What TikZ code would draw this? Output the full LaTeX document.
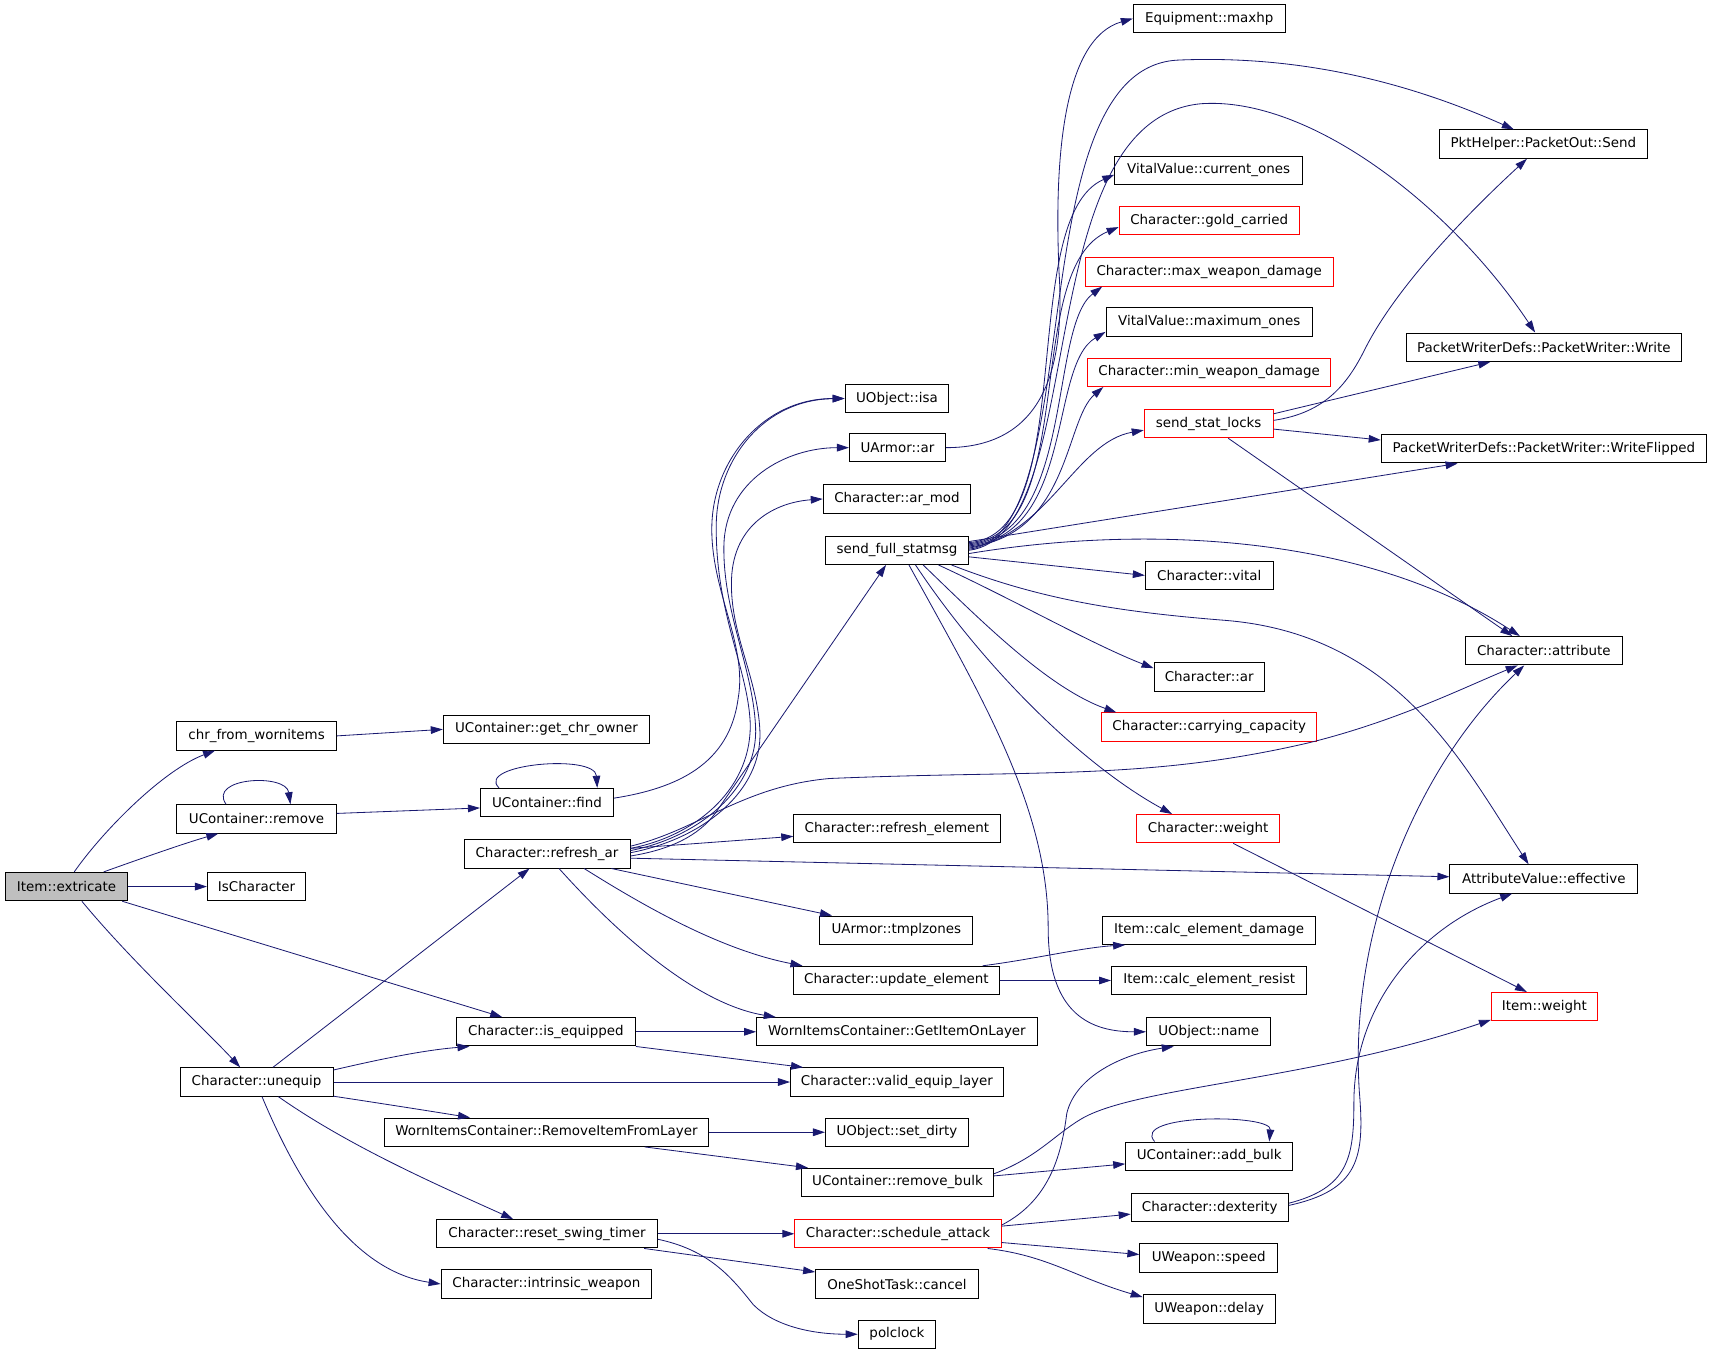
\documentclass[tikz,border=0pt]{standalone}
\usepackage{fontspec}
\setmainfont{DejaVu Sans}
\usetikzlibrary{arrows.meta}
\definecolor{edgeblue}{HTML}{191970}
\definecolor{rootfill}{HTML}{BFBFBF}
\begin{document}
\begin{tikzpicture}[x=1pt,y=-1pt,
  fn/.style={draw=black, line width=0.9pt, rectangle, minimum height=26pt, inner sep=0pt, font=\fontsize{12.3}{14}\selectfont},
  redfn/.style={fn, draw=red},
  rootfn/.style={fn, fill=rootfill},
  call/.style={draw=edgeblue, line width=0.75pt, -{Triangle[length=11pt,width=7pt]}}]
\useasboundingbox (0,0) rectangle (1568,1241);
% column 1
\node[rootfn, minimum width=112pt] (ext) at (61,812) {Item::extricate};
% column 2
\node[fn, minimum width=146pt] (chr) at (235,674) {chr\_from\_wornitems};
\node[fn, minimum width=146pt] (rem) at (235,750) {UContainer::remove};
\node[fn, minimum width=90pt] (isch) at (235,812) {IsCharacter};
\node[fn, minimum width=140pt] (uneq) at (235,991) {Character::unequip};
% column 3
\node[fn, minimum width=189pt] (gco) at (500.5,668) {UContainer::get\_chr\_owner};
\node[fn, minimum width=122pt] (find) at (501,735) {UContainer::find};
\node[fn, minimum width=152pt] (rar) at (501,782) {Character::refresh\_ar};
\node[fn, minimum width=164pt] (iseq) at (500,945) {Character::is\_equipped};
\node[fn, minimum width=297pt] (rifl) at (500.5,1037) {WornItemsContainer::RemoveItemFromLayer};
\node[fn, minimum width=202pt] (rst) at (501,1130) {Character::reset\_swing\_timer};
\node[fn, minimum width=193pt] (iw) at (500.5,1176) {Character::intrinsic\_weapon};
% column 4
\node[fn, minimum width=95pt] (isa) at (821.5,365) {UObject::isa};
\node[fn, minimum width=88pt] (uar) at (822,410) {UArmor::ar};
\node[fn, minimum width=135pt] (armod) at (821.5,457) {Character::ar\_mod};
\node[fn, minimum width=131pt] (fsm) at (821.5,504) {send\_full\_statmsg};
\node[fn, minimum width=189pt] (rel) at (821.5,759) {Character::refresh\_element};
\node[fn, minimum width=140pt] (tz) at (821,852) {UArmor::tmplzones};
\node[fn, minimum width=188pt] (upe) at (821,898) {Character::update\_element};
\node[fn, minimum width=257pt] (gil) at (821.5,945) {WornItemsContainer::GetItemOnLayer};
\node[fn, minimum width=195pt] (vel) at (821.5,991) {Character::valid\_equip\_layer};
\node[fn, minimum width=131pt] (sd) at (821.5,1037) {UObject::set\_dirty};
\node[fn, minimum width=176pt] (rb) at (822,1083) {UContainer::remove\_bulk};
\node[redfn, minimum width=189pt] (sa) at (822.5,1130) {Character::schedule\_attack};
\node[fn, minimum width=149pt] (osc) at (821.5,1176) {OneShotTask::cancel};
\node[fn, minimum width=71pt] (pc) at (821.5,1222) {polclock};
% column 5
\node[fn, minimum width=139pt] (maxhp) at (1107.5,17) {Equipment::maxhp};
\node[fn, minimum width=172pt] (cur) at (1107,156) {VitalValue::current\_ones};
\node[redfn, minimum width=165pt] (gold) at (1107.5,202) {Character::gold\_carried};
\node[redfn, minimum width=227pt] (maxwd) at (1107.5,249) {Character::max\_weapon\_damage};
\node[fn, minimum width=189pt] (maxo) at (1107.5,295) {VitalValue::maximum\_ones};
\node[redfn, minimum width=223pt] (minwd) at (1107.5,341) {Character::min\_weapon\_damage};
\node[redfn, minimum width=118pt] (ssl) at (1107,388) {send\_stat\_locks};
\node[fn, minimum width=117pt] (vital) at (1107.5,527) {Character::vital};
\node[fn, minimum width=101pt] (char_ar) at (1107.5,620) {Character::ar};
\node[redfn, minimum width=197pt] (cc) at (1107.5,666) {Character::carrying\_capacity};
\node[redfn, minimum width=131pt] (cw) at (1106.5,759) {Character::weight};
\node[fn, minimum width=195pt] (ced) at (1107.5,852) {Item::calc\_element\_damage};
\node[fn, minimum width=179pt] (cer) at (1107.5,898) {Item::calc\_element\_resist};
\node[fn, minimum width=114pt] (name) at (1107,945) {UObject::name};
\node[fn, minimum width=153pt] (ab) at (1107.5,1059) {UContainer::add\_bulk};
\node[fn, minimum width=144pt] (dex) at (1108,1106) {Character::dexterity};
\node[fn, minimum width=126pt] (spd) at (1107,1152) {UWeapon::speed};
\node[fn, minimum width=121pt] (dly) at (1107.5,1199) {UWeapon::delay};
% column 6
\node[fn, minimum width=191pt] (send) at (1413.5,132) {PktHelper::PacketOut::Send};
\node[fn, minimum width=252pt] (write) at (1414,318) {PacketWriterDefs::PacketWriter::Write};
\node[fn, minimum width=298pt] (wf) at (1414,411) {PacketWriterDefs::PacketWriter::WriteFlipped};
\node[fn, minimum width=144pt] (attr) at (1414,596) {Character::attribute};
\node[fn, minimum width=172pt] (eff) at (1414,805) {AttributeValue::effective};
\node[redfn, minimum width=97pt] (iwt) at (1414.5,922) {Item::weight};

% ---- edges from Item::extricate
\draw[call] ([shift={(7,0)}]ext.north) .. controls (95,760) and (150,705) .. ([shift={(-38,0)}]chr.south);
\draw[call] ([shift={(34,0)}]ext.north) .. controls (130,786) and (170,772) .. ([shift={(-35,0)}]rem.south);
\draw[call] (ext.east) -- (isch.west);
\draw[call] ([shift={(51,0)}]ext.south) -- ([shift={(-40,0)}]iseq.north);
\draw[call] ([shift={(14,0)}]ext.south) .. controls (120,880) and (185,940) .. ([shift={(-15,0)}]uneq.north);
% ---- column 2
\draw[call] (chr.east) -- (gco.west);
\draw[call] ([shift={(-28,0)}]rem.north) .. controls (190,712) and (262,708) .. ([shift={(31,0)}]rem.north);
\draw[call] ([shift={(0,-5)}]rem.east) -- ([shift={(0,5)}]find.west);
\draw[call] ([shift={(-44,0)}]find.north) .. controls (435,700) and (545,690) .. ([shift={(46,0)}]find.north);
\draw[call] ([shift={(0,-4)}]find.east) .. controls (620,722) and (668,700) .. (676,640) .. controls (685,590) and (650,540) .. (652,480) .. controls (654,420) and (700,365) .. (isa.west);
% ---- Character::refresh_ar
\draw[call] ([shift={(0,-5)}]rar.east) .. controls (640,765) and (690,720) .. (687,660) .. controls (684,610) and (655,560) .. (656,480) .. controls (657,420) and (700,366) .. (isa.west);
\draw[call] ([shift={(0,-3)}]rar.east) .. controls (640,767) and (695,722) .. (692,665) .. controls (689,610) and (662,560) .. (663,500) .. controls (664,440) and (720,410) .. (uar.west);
\draw[call] ([shift={(0,-1)}]rar.east) .. controls (645,768) and (698,724) .. (696,670) .. controls (694,620) and (668,580) .. (670,530) .. controls (672,480) and (710,460) .. (armod.west);
\draw[call] ([shift={(0,2)}]rar.east) .. controls (615,778) and (640,765) .. (655,745) -- ([shift={(-10,0)}]fsm.south);
\draw[call] ([shift={(0,-5)}]rar.east) -- ([shift={(0,7)}]rel.west);
\draw[call] ([shift={(0,-7)}]rar.east) .. controls (640,760) and (680,720) .. (760,713) .. controls (950,705) and (1050,715) .. (1200,680) .. controls (1280,660) and (1340,630) .. ([shift={(-24,0)}]attr.south);
\draw[call] ([shift={(0,4)}]rar.east) -- ([shift={(0,-2)}]eff.west);
\draw[call] ([shift={(59,0)}]rar.south) -- ([shift={(-59,0)}]tz.north);
\draw[call] ([shift={(34,0)}]rar.south) .. controls (590,830) and (660,870) .. ([shift={(-86,0)}]upe.north);
\draw[call] ([shift={(11,0)}]rar.south) .. controls (570,860) and (640,920) .. ([shift={(-111,0)}]gil.north);
% ---- Character::unequip
\draw[call] ([shift={(15,0)}]uneq.north) -- ([shift={(-16,0)}]rar.south);
\draw[call] ([shift={(0,-11)}]uneq.east) .. controls (340,972) and (385,962) .. ([shift={(-70,0)}]iseq.south);
\draw[call] (uneq.east) -- (vel.west);
\draw[call] ([shift={(0,13)}]uneq.east) .. controls (345,1010) and (390,1017) .. ([shift={(-70,0)}]rifl.north);
\draw[call] ([shift={(20,0)}]uneq.south) .. controls (320,1050) and (400,1085) .. ([shift={(-31,0)}]rst.north);
\draw[call] ([shift={(5,0)}]uneq.south) .. controls (280,1100) and (330,1165) .. (iw.west);
% ---- column 3 others
\draw[call] (iseq.east) -- (gil.west);
\draw[call] (iseq.south east) -- ([shift={(-86,0)}]vel.north);
\draw[call] (rifl.east) -- (sd.west);
\draw[call] ([shift={(90,0)}]rifl.south) -- ([shift={(-82,0)}]rb.north);
\draw[call] (rst.east) -- (sa.west);
\draw[call] ([shift={(89,0)}]rst.south) -- ([shift={(0,-11)}]osc.west);
\draw[call] ([shift={(0,5)}]rst.east) .. controls (650,1145) and (670,1170) .. (690,1195) .. controls (710,1215) and (745,1222) .. (pc.west);
% ---- send_full_statmsg
\draw[call] ([shift={(0,-7)}]fsm.east) .. controls (990,490) and (930,200) .. ([shift={(0,4)}]cur.west);
\draw[call] ([shift={(0,-6)}]fsm.east) .. controls (990,490) and (935,245) .. ([shift={(0,6)}]gold.west);
\draw[call] ([shift={(0,-5)}]fsm.east) .. controls (985,490) and (960,300) .. ([shift={(-98,0)}]maxwd.south);
\draw[call] ([shift={(0,-4)}]fsm.east) .. controls (985,490) and (960,335) .. ([shift={(0,9)}]maxo.west);
\draw[call] ([shift={(0,-3)}]fsm.east) .. controls (980,490) and (975,385) .. ([shift={(-97,0)}]minwd.south);
\draw[call] ([shift={(0,-2)}]fsm.east) .. controls (960,490) and (985,405) .. ([shift={(0,6)}]ssl.west);
\draw[call] ([shift={(0,-1)}]fsm.east) .. controls (1000,490) and (930,60) .. (1080,55) .. controls (1200,50) and (1300,80) .. ([shift={(-27,0)}]send.north);
\draw[call] (fsm.east) .. controls (1000,490) and (940,110) .. (1100,95) .. controls (1200,88) and (1330,190) .. ([shift={(-8,0)}]write.north);
\draw[call] ([shift={(0,-8)}]fsm.east) -- ([shift={(-79,0)}]wf.south);
\draw[call] ([shift={(0,3)}]fsm.east) .. controls (1050,480) and (1250,490) .. ([shift={(-22,0)}]attr.north);
\draw[call] ([shift={(0,6)}]fsm.east) -- (vital.west);
\draw[call] ([shift={(38,0)}]fsm.south) .. controls (930,550) and (1000,590) .. ([shift={(0,-8)}]char_ar.west);
\draw[call] ([shift={(24,0)}]fsm.south) .. controls (900,570) and (960,630) .. ([shift={(-85,0)}]cc.north);
\draw[call] ([shift={(17,0)}]fsm.south) .. controls (900,610) and (990,700) .. ([shift={(-33,0)}]cw.north);
\draw[call] ([shift={(50,0)}]fsm.south) .. controls (950,548) and (1020,560) .. (1120,568) .. controls (1280,580) and (1340,700) .. ([shift={(-14,0)}]eff.north);
\draw[call] ([shift={(11,0)}]fsm.south) .. controls (900,640) and (960,740) .. (960,850) .. controls (960,930) and (1000,945) .. (name.west);
% ---- UArmor::ar
\draw[call] (uar.east) .. controls (960,410) and (975,330) .. (970,250) .. controls (965,140) and (975,35) .. (maxhp.west);
% ---- send_stat_locks
\draw[call] ([shift={(0,-3)}]ssl.east) .. controls (1215,378) and (1235,350) .. (1250,320) .. controls (1280,260) and (1350,190) .. ([shift={(-15,0)}]send.south);
\draw[call] ([shift={(0,-9)}]ssl.east) -- ([shift={(-49,0)}]write.south);
\draw[call] ([shift={(0,5)}]ssl.east) -- ([shift={(0,-8)}]wf.west);
\draw[call] ([shift={(18,0)}]ssl.south) -- ([shift={(-29,0)}]attr.north);
% ---- others
\draw[call] ([shift={(23,0)}]cw.south) -- ([shift={(-16,0)}]iwt.north);
\draw[call] ([shift={(79,0)}]upe.north) .. controls (950,878) and (990,868) .. ([shift={(-77,0)}]ced.south);
\draw[call] (upe.east) -- (cer.west);
\draw[call] ([shift={(0,-8)}]rb.east) .. controls (950,1060) and (965,1040) .. (990,1025) .. controls (1040,995) and (1200,990) .. ([shift={(0,12)}]iwt.west);
\draw[call] ([shift={(0,-6)}]rb.east) -- ([shift={(0,7)}]ab.west);
\draw[call] ([shift={(-50,0)}]ab.north) .. controls (1035,1020) and (1165,1020) .. ([shift={(55,0)}]ab.north);
\draw[call] ([shift={(0,-8)}]sa.east) .. controls (960,1100) and (972,1060) .. (977,1020) .. controls (985,985) and (1030,965) .. ([shift={(-32,0)}]name.south);
\draw[call] ([shift={(0,-7)}]sa.east) -- ([shift={(0,6)}]dex.west);
\draw[call] ([shift={(0,8)}]sa.east) -- ([shift={(0,-3)}]spd.west);
\draw[call] ([shift={(82,0)}]sa.south) .. controls (960,1150) and (985,1170) .. ([shift={(0,-11)}]dly.west);
\draw[call] ([shift={(0,-2)}]dex.east) .. controls (1245,1090) and (1250,1060) .. (1245,1000) .. controls (1235,850) and (1300,700) .. ([shift={(-18,0)}]attr.south);
\draw[call] ([shift={(0,-4)}]dex.east) .. controls (1235,1088) and (1240,1060) .. (1240,1010) .. controls (1240,920) and (1300,850) .. ([shift={(-29,0)}]eff.south);
\end{tikzpicture}
\end{document}
